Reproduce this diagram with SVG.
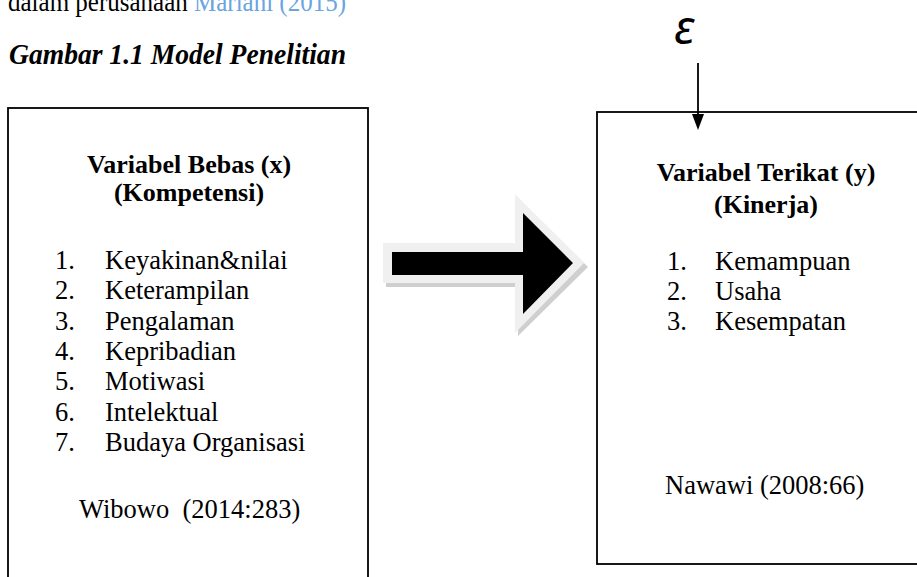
<svg xmlns="http://www.w3.org/2000/svg" width="917" height="577" viewBox="0 0 917 577">
<style>
.t{font-family:"Liberation Serif","Times New Roman",serif;font-size:26.5px;fill:#000;white-space:pre}
.b{font-weight:bold;font-size:26px}
.box{fill:#fff;stroke:#000;stroke-width:1.8}
</style>
<rect width="917" height="577" fill="#fff"/>
<g id="header">
<text x="8" y="11" textLength="338" lengthAdjust="spacingAndGlyphs" style="font-family:'Liberation Serif',serif;font-size:27px"><tspan fill="#000">dalam perusahaan </tspan><tspan fill="#6aa5de">Mariani (2015)</tspan></text>
<text x="9" y="64" textLength="337" lengthAdjust="spacingAndGlyphs" style="font-family:'Liberation Serif',serif;font-size:29.5px;font-weight:bold;font-style:italic">Gambar 1.1 Model Penelitian</text>
</g>
<g id="node-x">
<rect class="box" x="8" y="108" width="360" height="500"/>
<text class="t b" x="189" y="173" text-anchor="middle">Variabel Bebas (x)</text>
<text class="t b" x="189" y="201" text-anchor="middle">(Kompetensi)</text>
<text class="t" x="55" y="269">1.</text><text class="t" x="105" y="269">Keyakinan&amp;nilai</text>
<text class="t" x="55" y="299">2.</text><text class="t" x="105" y="299">Keterampilan</text>
<text class="t" x="55" y="330">3.</text><text class="t" x="105" y="330">Pengalaman</text>
<text class="t" x="55" y="360">4.</text><text class="t" x="105" y="360">Kepribadian</text>
<text class="t" x="55" y="390">5.</text><text class="t" x="105" y="390">Motiwasi</text>
<text class="t" x="55" y="421">6.</text><text class="t" x="105" y="421">Intelektual</text>
<text class="t" x="55" y="451">7.</text><text class="t" x="105" y="451">Budaya Organisasi</text>
<text class="t" x="79" y="518">Wibowo  (2014:283)</text>
</g>
<g id="node-y">
<rect class="box" x="597" y="112" width="340" height="452"/>
<text class="t b" x="766" y="181" text-anchor="middle">Variabel Terikat (y)</text>
<text class="t b" x="766" y="213" text-anchor="middle">(Kinerja)</text>
<text class="t" x="667" y="270">1.</text><text class="t" x="715" y="270">Kemampuan</text>
<text class="t" x="667" y="300">2.</text><text class="t" x="715" y="300">Usaha</text>
<text class="t" x="667" y="330">3.</text><text class="t" x="715" y="330">Kesempatan</text>
<text class="t" x="665" y="494">Nawawi (2008:66)</text>
</g>
<g id="node-e">
<text x="674" y="44" style="font-family:'Noto Sans','DejaVu Sans',sans-serif;font-size:48px;font-style:italic;fill:#000">ε</text>
</g>
<g id="connectors">
<polygon points="386,247 518,247 518,198 588,267 518,336 518,287 386,287" fill="#cfcfcf"/>
<polygon points="383,243 515,243 515,194 584,263 515,333 515,283 383,283" fill="#f0f0f0"/>
<polygon points="392,252 523,252 523,213 573,263 523,314 523,275 392,275" fill="#000"/>
<line x1="698" y1="63" x2="698" y2="117" stroke="#000" stroke-width="1.8"/>
<path d="M692,114 L704,114 L698,130 Z" fill="#000"/>
</g>
</svg>
